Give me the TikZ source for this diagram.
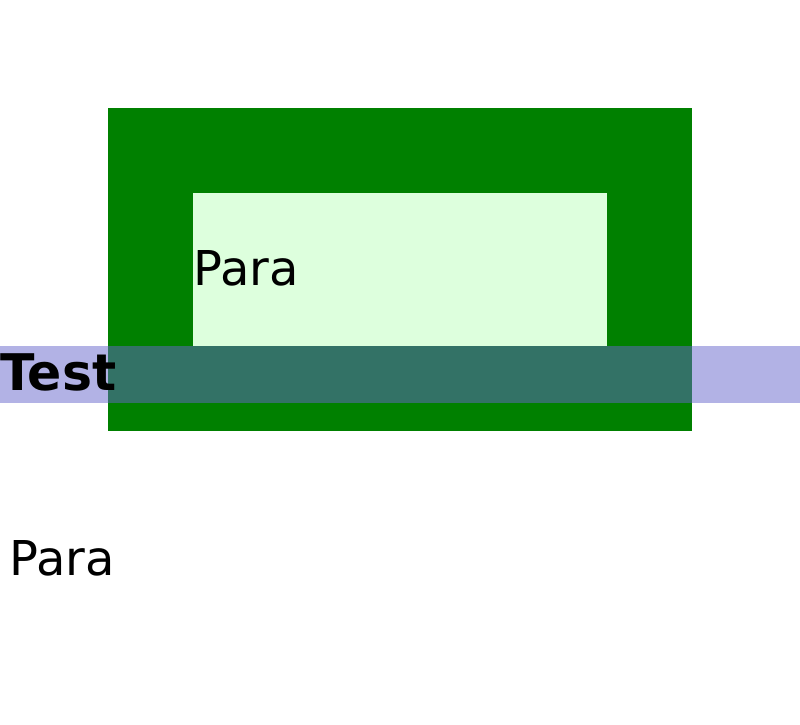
\documentclass[tikz,border=0pt]{standalone}
\usepackage{fontspec}
\setmainfont{DejaVu Sans}
\definecolor{boxgreen}{HTML}{008000}
\definecolor{paragreen}{HTML}{DDFFDD}
\definecolor{bandblue}{HTML}{6666CC}
\tikzset{
  paratext/.style={anchor=base west, inner sep=0pt, font=\fontsize{48}{58}\selectfont},
  testtext/.style={anchor=base west, inner sep=0pt, font=\fontsize{50.5}{60}\selectfont\bfseries}
}
\begin{document}
\begin{tikzpicture}[x=1pt, y=-1pt]
                \useasboundingbox (0,0) rectangle (800,725);
                \coordinate (G0) at (108, 108);
                \coordinate (G1) at (692, 431);
                \coordinate (L0) at (193, 193);
                \coordinate (L1) at (607, 346);
                \coordinate (B0) at (0, 346);
                \coordinate (B1) at (800, 403);

                % Boite verte et paragraphe
                \fill[boxgreen] (G0) rectangle (G1);
                \fill[paragreen] (L0) rectangle (L1);
                \node[paratext] (paraIn) at (193, 285) {Para};

                % Bande bleue transparente
                \fill[bandblue, opacity=0.5] (B0) rectangle (B1);
                \node[testtext] (test) at (0, 390.7) {Test};

                \node[paratext] (paraOut) at (9, 575) {Para};
            \end{tikzpicture}
\end{document}
